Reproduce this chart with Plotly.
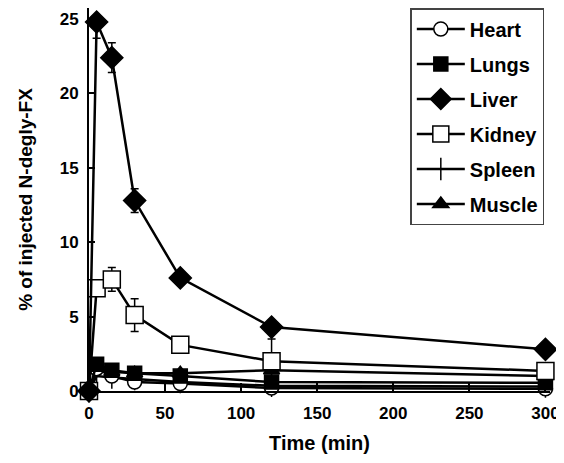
import plotly.graph_objects as go

time = [0, 5, 15, 30, 60, 120, 300]
heart = [0, 1.5, 1.0, 0.6, 0.5, 0.2, 0.15]
lungs = [0, 1.8, 1.4, 1.2, 1.0, 0.6, 0.55]
liver = [0, 24.8, 22.4, 12.8, 7.6, 4.3, 2.8]
kidney = [0, 6.9, 7.5, 5.1, 3.1, 2.0, 1.35]
spleen = [0, 1.0, 0.9, 0.8, 0.6, 0.35, 0.3]
muscle = [0, 1.5, 1.3, 1.2, 1.2, 1.4, 1.0]

liver_err_plus = [0, 0, 1.0, 0.8, 0, 0, 0]
liver_err_minus = [0, 1.1, 1.0, 0.8, 0, 0, 0]
kidney_err = [0, 0.3, 0.8, 1.1, 0, 1.5, 0.5]

order = ["Heart", "Lungs", "Liver", "Kidney", "Spleen", "Muscle"]

FONT = "Arial"
BLACK = "black"

fig = go.Figure()

def add(name, y, symbol, size, fill, err=None, errm=None):
    kw = {}
    if err is not None:
        kw["error_y"] = dict(type="data", array=err,
                             arrayminus=errm if errm is not None else err,
                             symmetric=errm is None, color=BLACK,
                             thickness=1.5, width=4, visible=True)
    fig.add_trace(go.Scatter(
        x=time, y=y, name=name, mode="lines+markers",
        line=dict(color=BLACK, width=2.5),
        marker=dict(symbol=symbol, size=size, color=fill,
                    line=dict(color=BLACK, width=1.5)),
        cliponaxis=False, legendgroup=name, legendrank=order.index(name) + 1, **kw))

add("Muscle", muscle, "triangle-up", 14, BLACK)
add("Spleen", spleen, "line-ns-open", 16, BLACK)
add("Heart", heart, "circle", 14, "white")
add("Lungs", lungs, "square", 14, BLACK)
add("Kidney", kidney, "square", 17, "white", kidney_err)
add("Liver", liver, "diamond", 17, BLACK, liver_err_plus, liver_err_minus)

fig.update_layout(
    width=556, height=455,
    margin=dict(l=81, r=14, t=0, b=72),
    paper_bgcolor="white", plot_bgcolor="white",
    font=dict(family=FONT, color=BLACK, size=16, weight="bold"),
    showlegend=True,
    legend=dict(x=0.697, y=1.0, xanchor="left", yanchor="top",
                bordercolor="#444", borderwidth=1.5, bgcolor="white",
                font=dict(family=FONT, size=20, color=BLACK, weight="bold"),
                tracegroupgap=6, itemwidth=48, traceorder="grouped"),
    xaxis=dict(range=[0, 303], tickvals=[0, 50, 100, 150, 200, 250, 300],
               automargin=False,
               showgrid=False, zeroline=False, showline=True, linecolor=BLACK, linewidth=2,
               ticks="inside", ticklen=8, tickwidth=2, tickcolor=BLACK,
               ticklabelstandoff=6,
               tickfont=dict(family=FONT, size=17, weight="bold"),
               title=dict(text="Time (min)", standoff=14,
                          font=dict(family=FONT, size=20, weight="bold"))),
    yaxis=dict(range=[0, 25.74], tickvals=[0, 5, 10, 15, 20, 25],
               automargin=False,
               showgrid=False, zeroline=False, showline=True, linecolor=BLACK, linewidth=2,
               ticks="inside", ticklen=6, tickwidth=2, tickcolor=BLACK,
               ticklabelstandoff=5,
               tickfont=dict(family=FONT, size=17, weight="bold"),
               title=dict(text="% of injected N-degly-FX", standoff=22,
                          font=dict(family=FONT, size=19, weight="bold"))),
)

fig.write_html("out.html")
